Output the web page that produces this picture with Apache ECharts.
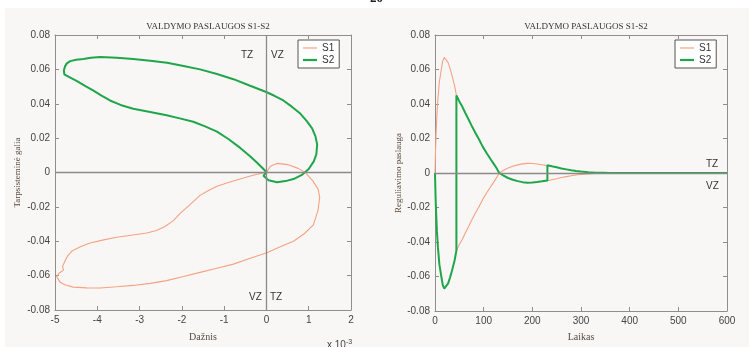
<!DOCTYPE html>
<html>
<head>
<meta charset="utf-8">
<script src="https://cdn.jsdelivr.net/npm/echarts@6/dist/echarts.min.js"></script>
<style>
  html, body { margin: 0; padding: 0; background: #ffffff; }
  #chart { width: 749px; height: 347px; }
</style>
</head>
<body>
<div id="chart"></div>
<script>
// Phase portraits: frequency deviation (x 10^-3) vs. tie-line power
const s1Phase = [
  [0, 0], [0.1, 0.0038], [0.25, 0.0053], [0.5, 0.0046], [0.75, 0.0024], [0.92, 0],
  [1.1, -0.005], [1.22, -0.0095], [1.26, -0.0143], [1.22, -0.022], [1.11, -0.0305],
  [0.9, -0.0355], [0.64, -0.040], [0.3, -0.0435], [0.01, -0.0467], [-0.4, -0.050],
  [-0.78, -0.0533], [-1.17, -0.0557], [-1.57, -0.0581], [-1.96, -0.0605], [-2.36, -0.0629],
  [-2.75, -0.0645], [-3.15, -0.0657], [-3.54, -0.0665], [-3.93, -0.0672], [-4.25, -0.0671],
  [-4.57, -0.0667], [-4.75, -0.0655], [-4.88, -0.0638], [-4.96, -0.0606], [-4.9, -0.0585],
  [-4.8, -0.0568], [-4.82, -0.0545], [-4.76, -0.0514], [-4.7, -0.0485], [-4.6, -0.0457],
  [-4.4, -0.0432], [-4.17, -0.041], [-3.85, -0.0392], [-3.54, -0.0377], [-3.2, -0.0365],
  [-2.83, -0.0352], [-2.6, -0.0337], [-2.4, -0.0314], [-2.2, -0.028], [-2.04, -0.0238],
  [-1.8, -0.0185], [-1.57, -0.0133], [-1.37, -0.0105], [-1.17, -0.008], [-0.9, -0.0058],
  [-0.62, -0.0038], [-0.4, -0.0022], [-0.22, -0.001], [-0.1, -0.0004], [0, 0]
];
const s2Phase = [
  [0, 0], [-0.07, -0.0019], [0.05, -0.0045], [0.25, -0.0057], [0.45, -0.005], [0.64, -0.0038],
  [0.85, -0.0012], [1.0, 0.002], [1.12, 0.0065], [1.18, 0.0105], [1.2, 0.0162], [1.16, 0.021],
  [1.08, 0.0257], [0.95, 0.030], [0.8, 0.0343], [0.6, 0.0383], [0.4, 0.0419], [0.2, 0.0445],
  [0.01, 0.0467], [-0.4, 0.0506], [-0.78, 0.0543], [-1.17, 0.0573], [-1.57, 0.060],
  [-1.96, 0.062], [-2.35, 0.0638], [-2.75, 0.065], [-3.15, 0.0661], [-3.54, 0.0668],
  [-3.93, 0.0672], [-4.15, 0.0668], [-4.33, 0.0661], [-4.5, 0.0656], [-4.64, 0.0648],
  [-4.72, 0.0635], [-4.76, 0.0619], [-4.79, 0.0595], [-4.78, 0.0571], [-4.65, 0.0553],
  [-4.49, 0.0533], [-4.3, 0.0505], [-4.09, 0.0476], [-3.9, 0.0447], [-3.7, 0.0419],
  [-3.45, 0.0393], [-3.15, 0.0371], [-2.75, 0.0352], [-2.36, 0.0333], [-2.05, 0.0315],
  [-1.73, 0.0295], [-1.45, 0.0268], [-1.17, 0.0238], [-0.9, 0.0195], [-0.62, 0.0143],
  [-0.4, 0.0098], [-0.22, 0.0057], [-0.1, 0.0028], [-0.03, 0.001], [0, 0]
];

// Regulation service over time (repeated times mark switching instants)
const timeSteps = [0, 1, 2, 4, 6, 9, 13, 16, 19, 23, 27, 31, 35, 40, 44, 44, 50, 56, 62, 68, 75, 82,
  90, 98, 106, 114, 120, 126, 132, 140, 150, 160, 170, 180, 190, 200, 210, 220, 231, 231, 240,
  250, 260, 270, 280, 290, 300, 315, 330, 345, 360, 400, 500, 600];
const s1Service = [0, 0.012, 0.021, 0.034, 0.043, 0.053, 0.060, 0.065, 0.067, 0.066, 0.064, 0.0605,
  0.0565, 0.051, 0.045, -0.045, -0.0415, -0.0385, -0.0349, -0.0316, -0.0276, -0.0238, -0.0197,
  -0.0153, -0.0116, -0.0081, -0.0056, -0.003, 0, 0.0014, 0.0029, 0.0039, 0.0047, 0.0053, 0.0056,
  0.0055, 0.0052, 0.0048, 0.0043, -0.0045, -0.0039, -0.0033, -0.0026, -0.0021, -0.0016, -0.0012,
  -0.0009, -0.0005, -0.0002, -0.0001, 0, 0, 0, 0];
const s2Service = [0, -0.012, -0.021, -0.034, -0.043, -0.053, -0.060, -0.065, -0.067, -0.066, -0.064,
  -0.0605, -0.0565, -0.051, -0.045, 0.045, 0.0415, 0.0385, 0.0349, 0.0316, 0.0276, 0.0238, 0.0197,
  0.0153, 0.0116, 0.0081, 0.0056, 0.003, 0, -0.0014, -0.0029, -0.0039, -0.0047, -0.0053, -0.0056,
  -0.0055, -0.0052, -0.0048, -0.0043, 0.0045, 0.0039, 0.0033, 0.0026, 0.0021, 0.0016, 0.0012,
  0.0009, 0.0005, 0.0002, 0.0001, 0, 0, 0, 0];

const seriesNames = ['S1', 'S2'];
const chartTitle = 'VALDYMO PASLAUGOS S1-S2';
const freqTicks = { min: -5, max: 2, interval: 1 };
const timeTicks = { min: 0, max: 600, interval: 100 };
const valueTicks = { min: -0.08, max: 0.08, interval: 0.02 };

const colorS1 = '#f5a182';
const colorS2 = '#1fa64a';
const frameColor = '#8e8e8e';
const narrow = '"Liberation Sans Narrow", "Arial Narrow", "Liberation Sans", sans-serif';
const serif = '"Liberation Serif", "DejaVu Serif", serif';

const chart = echarts.init(document.getElementById('chart'), null, { renderer: 'canvas' });

function frameAxis(base, pos, gridIndex, withLabels, extra) {
  return Object.assign({
    type: 'value', gridIndex: gridIndex, position: pos,
    min: base.min, max: base.max, interval: base.interval,
    axisLine: { show: true, onZero: false, lineStyle: { color: frameColor, width: 1 } },
    axisTick: { show: true, inside: true, length: 4, lineStyle: { color: frameColor } },
    axisLabel: withLabels ? { show: true, color: '#444', fontFamily: narrow, fontSize: 10, margin: 5 } : { show: false },
    splitLine: { show: false }
  }, extra || {});
}

// Legend entries drawn as short strokes, the thickness following each series
function legendBox(left) {
  return {
    data: [
      { name: seriesNames[0], icon: 'path://M0,0H14V1.2H0Z' },
      { name: seriesNames[1], icon: 'path://M0,0H14V2.2H0Z' }
    ],
    orient: 'vertical', left: left, top: 40, padding: [3, 5, 3, 5], itemGap: 2,
    itemWidth: 14, itemHeight: 10, symbolKeepAspect: true,
    backgroundColor: '#ffffff', borderColor: '#555', borderWidth: 1,
    textStyle: { fontFamily: narrow, fontSize: 10, color: '#333' }
  };
}

const zeroLine = { color: '#8a8a8a', width: 1.3, type: 'solid' };
const noteStyle = { fontFamily: narrow, fontSize: 10, fill: '#333' };

const option = {
  backgroundColor: '#ffffff',
  animation: false,
  graphic: [
    { type: 'rect', shape: { x: 5, y: 8, width: 744, height: 339 }, style: { fill: '#f8f7f5' }, z: -10 },
    { type: 'text', left: 370, top: -8, style: { text: '20', fontFamily: serif, fontSize: 13, fontWeight: 'bold', fill: '#222' } },
    { type: 'text', left: 241, top: 50, style: Object.assign({ text: 'TZ' }, noteStyle) },
    { type: 'text', left: 271, top: 50, style: Object.assign({ text: 'VZ' }, noteStyle) },
    { type: 'text', left: 249, top: 292, style: Object.assign({ text: 'VZ' }, noteStyle) },
    { type: 'text', left: 270, top: 292, style: Object.assign({ text: 'TZ' }, noteStyle) },
    { type: 'text', left: 706, top: 159, style: Object.assign({ text: 'TZ' }, noteStyle) },
    { type: 'text', left: 706, top: 181, style: Object.assign({ text: 'VZ' }, noteStyle) },
    { type: 'text', left: 327, top: 339, style: {
        text: '{b|x 10}{s|-3}', fill: '#444',
        rich: { b: { fontFamily: narrow, fontSize: 10, fill: '#444' }, s: { fontFamily: narrow, fontSize: 7, fill: '#444', verticalAlign: 'top', padding: [0, 0, 6, 0] } } } }
  ],
  title: [
    { text: chartTitle, left: 203, top: 17, textAlign: 'center',
      textStyle: { fontFamily: serif, fontSize: 9, fontWeight: 'normal', color: '#333' } },
    { text: chartTitle, left: 581, top: 17, textAlign: 'center',
      textStyle: { fontFamily: serif, fontSize: 9, fontWeight: 'normal', color: '#333' } }
  ],
  legend: [legendBox(298), legendBox(675)],
  grid: [
    { left: 55, top: 35, width: 296, height: 280, backgroundColor: 'transparent' },
    { left: 435, top: 35, width: 292, height: 280, backgroundColor: 'transparent' }
  ],
  xAxis: [
    frameAxis(freqTicks, 'bottom', 0, true, { name: 'Dažnis', nameLocation: 'middle', nameGap: 22,
      nameTextStyle: { fontFamily: serif, fontSize: 10, color: '#5a4a40' } }),
    frameAxis(freqTicks, 'top', 0, false),
    frameAxis(timeTicks, 'bottom', 1, true, { name: 'Laikas', nameLocation: 'middle', nameGap: 21,
      nameTextStyle: { fontFamily: serif, fontSize: 10, color: '#5a4a40' } }),
    frameAxis(timeTicks, 'top', 1, false)
  ],
  yAxis: [
    frameAxis(valueTicks, 'left', 0, true, { name: 'Tarpsisteminė galia', nameLocation: 'middle', nameGap: 33,
      nameTextStyle: { fontFamily: serif, fontSize: 9, color: '#5a4a40' } }),
    frameAxis(valueTicks, 'right', 0, false),
    frameAxis(valueTicks, 'left', 1, true, { name: 'Reguliavimo paslauga', nameLocation: 'middle', nameGap: 31,
      nameTextStyle: { fontFamily: serif, fontSize: 9, color: '#5a4a40' } }),
    frameAxis(valueTicks, 'right', 1, false)
  ],
  series: [
    { name: 'S1', type: 'line', xAxisIndex: 0, yAxisIndex: 0, data: s1Phase, showSymbol: false, symbol: 'none',
      lineStyle: { color: colorS1, width: 1.1 }, itemStyle: { color: colorS1 }, z: 3,
      markLine: { silent: true, symbol: 'none', label: { show: false }, lineStyle: zeroLine,
        data: [{ yAxis: 0 }, { xAxis: 0 }] } },
    { name: 'S2', type: 'line', xAxisIndex: 0, yAxisIndex: 0, data: s2Phase, showSymbol: false, symbol: 'none',
      lineStyle: { color: colorS2, width: 2 }, itemStyle: { color: colorS2 }, z: 4 },
    { name: 'S1', type: 'line', xAxisIndex: 2, yAxisIndex: 2,
      data: timeSteps.map((t, i) => [t, s1Service[i]]), showSymbol: false, symbol: 'none',
      lineStyle: { color: colorS1, width: 1.1 }, itemStyle: { color: colorS1 }, z: 3,
      markLine: { silent: true, symbol: 'none', label: { show: false }, lineStyle: zeroLine,
        data: [{ yAxis: 0 }] } },
    { name: 'S2', type: 'line', xAxisIndex: 2, yAxisIndex: 2,
      data: timeSteps.map((t, i) => [t, s2Service[i]]), showSymbol: false, symbol: 'none',
      lineStyle: { color: colorS2, width: 2 }, itemStyle: { color: colorS2 }, z: 4 }
  ]
};

chart.setOption(option);
</script>
</body>
</html>
